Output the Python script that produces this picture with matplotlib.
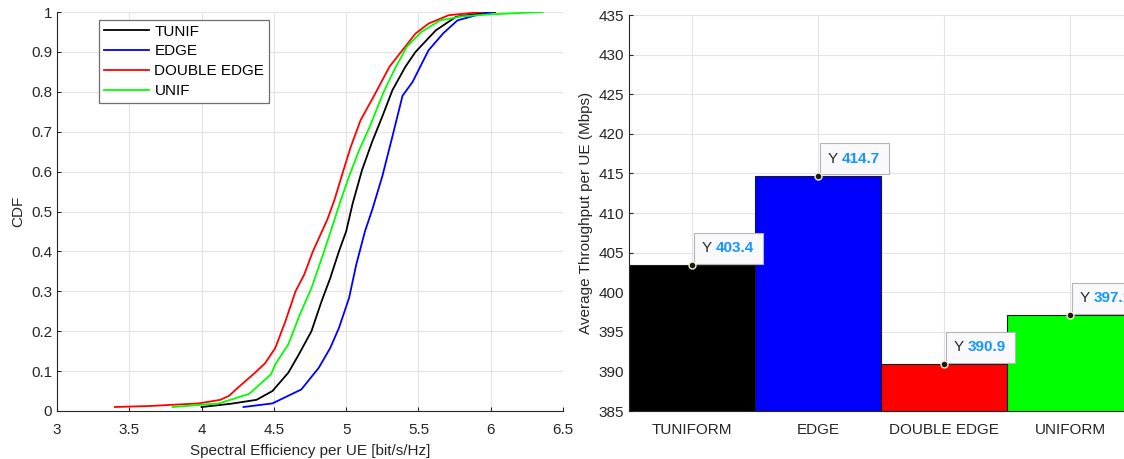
import numpy as np
import matplotlib.pyplot as plt

plt.rcParams['font.family'] = ['Liberation Sans', 'DejaVu Sans']
plt.rcParams['font.size'] = 11

# CDF curves (x = spectral efficiency, y = CDF)
tunif_x = [4.00, 4.20, 4.38, 4.49, 4.60, 4.67, 4.76, 4.83, 4.89, 4.95, 5.00, 5.045, 5.11, 5.18, 5.25,
           5.32, 5.41, 5.48, 5.62, 5.76, 5.92, 6.03]
tunif_y = [0.01, 0.018, 0.028, 0.05, 0.096, 0.14, 0.20, 0.275, 0.333, 0.40, 0.45, 0.52, 0.604, 0.675, 0.738,
           0.804, 0.863, 0.90, 0.954, 0.988, 0.996, 1.00]

edge_x = [4.29, 4.49, 4.69, 4.81, 4.89, 4.95, 5.02, 5.07, 5.13, 5.18, 5.25, 5.32, 5.39, 5.46, 5.50,
          5.57, 5.67, 5.77, 5.90, 6.02]
edge_y = [0.01, 0.019, 0.054, 0.108, 0.158, 0.208, 0.283, 0.367, 0.45, 0.504, 0.588, 0.688, 0.79, 0.825, 0.854,
          0.904, 0.946, 0.979, 0.992, 1.00]

dedge_x = [3.40, 3.64, 3.98, 4.13, 4.19, 4.25, 4.37, 4.44, 4.51, 4.58, 4.65, 4.71, 4.77, 4.82, 4.87,
           4.92, 4.97, 5.03, 5.10, 5.19, 5.25, 5.30, 5.38, 5.48, 5.57, 5.71, 5.94]
dedge_y = [0.01, 0.0125, 0.019, 0.028, 0.038, 0.058, 0.096, 0.12, 0.158, 0.225, 0.30, 0.342, 0.40, 0.44, 0.48,
           0.53, 0.59, 0.66, 0.729, 0.788, 0.829, 0.863, 0.90, 0.946, 0.971, 0.992, 1.00]

unif_x = [3.80, 4.12, 4.33, 4.44, 4.48, 4.51, 4.60, 4.68, 4.76, 4.84, 4.90, 4.96, 5.02, 5.09, 5.16,
          5.26, 5.34, 5.42, 5.52, 5.65, 5.80, 5.99, 6.36]
unif_y = [0.01, 0.019, 0.043, 0.079, 0.092, 0.117, 0.167, 0.242, 0.308, 0.392, 0.458, 0.525, 0.588, 0.654, 0.71,
          0.80, 0.86, 0.913, 0.95, 0.979, 0.989, 0.994, 1.00]

# bar chart
schemes = ['TUNIFORM', 'EDGE', 'DOUBLE EDGE', 'UNIFORM']
throughput = [403.4, 414.7, 390.9, 397.1]
bar_colors = ['#000000', '#0000ff', '#ff0000', '#00ff00']

axis_col = '#262626'
grid_col = '#e3e3e3'

fig = plt.figure(figsize=(11.24, 4.59), dpi=100)


def matlab_style(ax):
    for s in ['top', 'right']:
        ax.spines[s].set_visible(False)
    for s in ['left', 'bottom']:
        ax.spines[s].set_color(axis_col)
        ax.spines[s].set_linewidth(0.8)
    ax.tick_params(direction='in', length=3, colors=axis_col, labelsize=11, width=0.8)
    ax.tick_params(axis='x', pad=8.5)
    ax.grid(True, color=grid_col, linewidth=0.8)
    ax.set_axisbelow(True)


# left: CDF
ax1 = fig.add_axes([57 / 1124, 1 - 411 / 459, 506 / 1124, 399 / 459])
ax1.plot(tunif_x, tunif_y, color='black', lw=1.3, label='TUNIF')
ax1.plot(edge_x, edge_y, color='#0000ff', lw=1.3, label='EDGE')
ax1.plot(dedge_x, dedge_y, color='#ff0000', lw=1.3, label='DOUBLE EDGE')
ax1.plot(unif_x, unif_y, color='#00ff00', lw=1.3, label='UNIF')
ax1.set_xlim(3, 6.5)
ax1.set_ylim(0, 1)
ax1.set_xticks(np.arange(3, 6.51, 0.5))
ax1.set_xticklabels(['3', '3.5', '4', '4.5', '5', '5.5', '6', '6.5'])
ax1.set_yticks(np.arange(0, 1.01, 0.1))
ax1.set_yticklabels(['0', '0.1', '0.2', '0.3', '0.4', '0.5', '0.6', '0.7', '0.8', '0.9', '1'])
matlab_style(ax1)
ax1.set_xlabel('Spectral Efficiency per UE [bit/s/Hz]', color=axis_col, fontsize=11, labelpad=5)
ax1.set_ylabel('CDF', color=axis_col, fontsize=11, labelpad=4)
leg = ax1.legend(loc='upper left', bbox_to_anchor=(0.083, 0.98), borderaxespad=0,
                 fancybox=False, framealpha=1, edgecolor='#6e6e6e', fontsize=11,
                 handlelength=3.0, handletextpad=0.33, labelspacing=0.38, borderpad=0.3)
leg.get_frame().set_linewidth(0.9)

# right: bars (axes runs past the figure edge like the reference)
ax2 = fig.add_axes([629 / 1124, 1 - 411 / 459, 504 / 1124, 396 / 459])
xpos = np.arange(1, len(schemes) + 1)
ax2.bar(xpos, throughput, width=1.0, bottom=0, color=bar_colors, edgecolor='#1a1a1a', linewidth=0.8, zorder=2)
ax2.set_xlim(0.5, 4.5)
ax2.set_ylim(385, 435)
ax2.set_yticks(np.arange(385, 436, 5))
ax2.set_xticks(xpos)
ax2.set_xticklabels(schemes)
matlab_style(ax2)
ax2.tick_params(axis='x', length=0)
ax2.set_ylabel('Average Throughput per UE (Mbps)', color=axis_col, fontsize=11, labelpad=4)

# data tips
for xi, v in zip(xpos, throughput):
    ax2.plot(xi, v, 'o', ms=5, mfc='#1a1a1a', mec='#f5f0c8', mew=1.0, zorder=6, clip_on=False)
    ax2.annotate('Y ' + f'{v:.1f}', xy=(xi, v), xytext=(10, 10), textcoords='offset pixels',
                 ha='left', va='bottom', fontsize=11, fontweight='bold', color='none',
                 bbox=dict(boxstyle='square,pad=0.55', fc='#f9f9fc', ec='#b4b4b4', lw=0.8),
                 zorder=5, annotation_clip=False)
    ty = ax2.annotate('Y ', xy=(xi, v), xytext=(10, 10), textcoords='offset pixels',
                      ha='left', va='bottom', fontsize=11, color=axis_col, zorder=7,
                      annotation_clip=False)
    ax2.annotate(f'{v:.1f}', xy=(1, 0), xycoords=ty, ha='left', va='bottom',
                 fontsize=11, fontweight='bold', color='#1496ff', zorder=7)

fig.savefig('out.png', dpi=100)
